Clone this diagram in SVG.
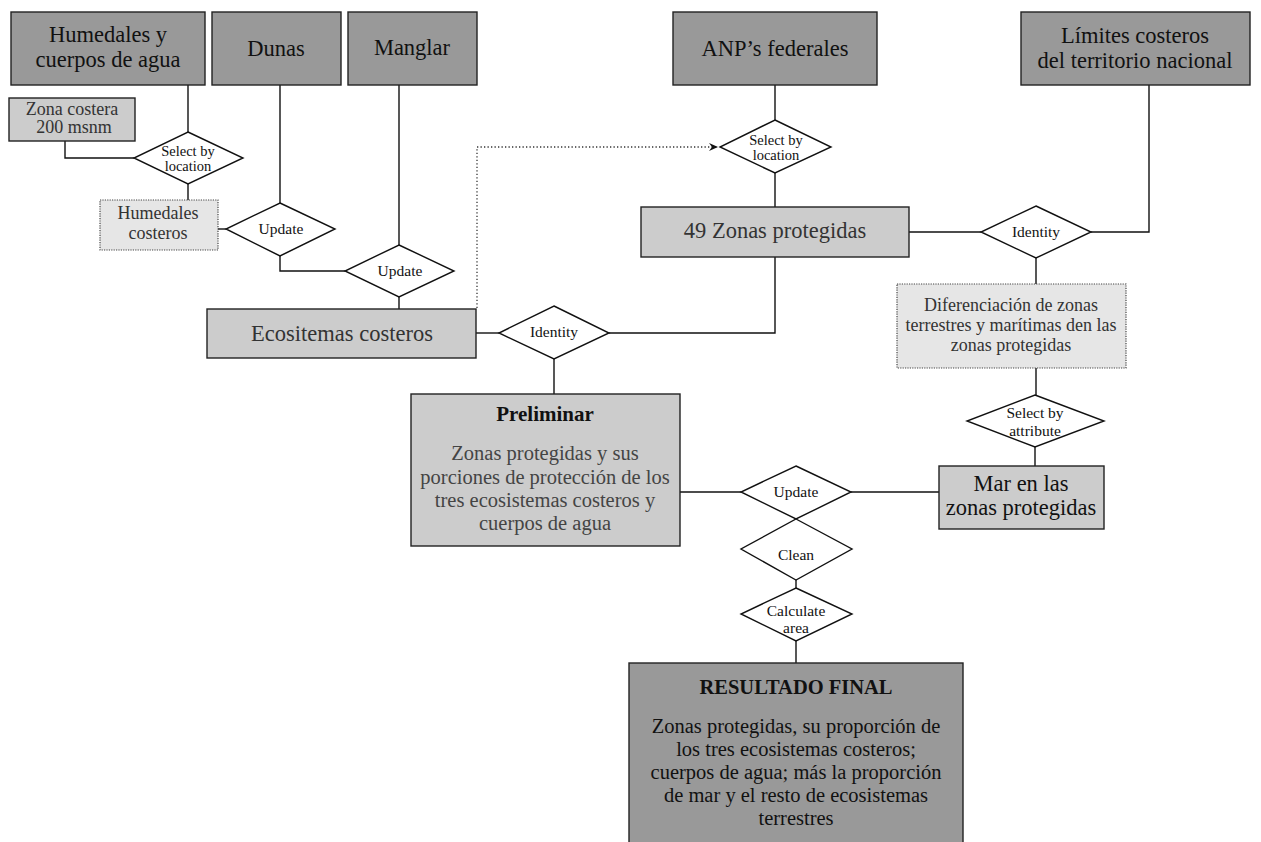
<svg xmlns="http://www.w3.org/2000/svg" width="1261" height="842" viewBox="0 0 1261 842">
<style>
.dark{fill:#999999;stroke:#222;stroke-width:1.4}
.mid{fill:#cccccc;stroke:#222;stroke-width:1.4}
.light{fill:#e6e6e6;stroke:#444;stroke-width:1.2;stroke-dasharray:1.2 1.2}
.dia{fill:#ffffff;stroke:#111;stroke-width:1.4}
.ln{fill:none;stroke:#111;stroke-width:1.4}
.dot{fill:none;stroke:#333;stroke-width:1.3;stroke-dasharray:1.3 2.2}
text{font-family:"Liberation Serif","Times New Roman",serif;text-anchor:middle}
.big{font-size:22.5px;fill:#111}
.bigg{font-size:22.5px;fill:#333}
.med{font-size:18px;fill:#333}
.sm{font-size:15.5px;fill:#111}
.sm2{font-size:14.5px;fill:#111}
.body{font-size:20.5px;fill:#444}
.bodyk{font-size:20.5px;fill:#111}
.hd{font-size:21px;font-weight:bold;fill:#111}
</style>
<defs>
<marker id="arr" markerWidth="10" markerHeight="10" refX="9" refY="5" orient="auto" markerUnits="userSpaceOnUse">
<path d="M0,1 L9,5 L0,9 L3,5 Z" fill="#111"/>
</marker>
</defs>
<g id="connectors">
<path class="ln" d="M188,85 V132"/>
<path class="ln" d="M65,141 V158 H134"/>
<path class="ln" d="M188,184 V200"/>
<path class="ln" d="M218,229 H226"/>
<path class="ln" d="M280,85 V203"/>
<path class="ln" d="M280,256 V271 H345"/>
<path class="ln" d="M399,85 V245"/>
<path class="ln" d="M399,297 V309"/>
<path class="dot" d="M477,308 V147 H718" marker-end="url(#arr)"/>
<path class="ln" d="M476,333 H499"/>
<path class="ln" d="M609,333 H775 V257"/>
<path class="ln" d="M554,359 V394"/>
<path class="ln" d="M775,85 V120"/>
<path class="ln" d="M775,173 V207"/>
<path class="ln" d="M909,232 H981"/>
<path class="ln" d="M1091,232 H1149 V85"/>
<path class="ln" d="M1036,258 V284"/>
<path class="ln" d="M1036,368 V395"/>
<path class="ln" d="M1035,447 V466"/>
<path class="ln" d="M680,492 H741"/>
<path class="ln" d="M851,492 H939"/>
<path class="ln" d="M796,580 V588"/>
<path class="ln" d="M796,641 V663"/>
</g>
<g id="humedales">
<rect class="dark" x="11" y="12" width="194" height="73"/>
<text class="big" x="108" y="42">Humedales y</text>
<text class="big" x="108" y="67">cuerpos de agua</text>
</g>
<g id="dunas">
<rect class="dark" x="212" y="12" width="129" height="73"/>
<text class="big" x="276" y="56">Dunas</text>
</g>
<g id="manglar">
<rect class="dark" x="348" y="12" width="129" height="73"/>
<text class="big" x="412" y="55">Manglar</text>
</g>
<g id="zona-costera">
<rect class="mid" x="9" y="98" width="126" height="43"/>
<text class="med" x="72" y="115">Zona costera</text>
<text class="med" x="74" y="133">200 msnm</text>
</g>
<g id="select-location-1">
<polygon class="dia" points="188,132 243,158 188,184 134,158"/>
<text class="sm2" x="188" y="156">Select by</text>
<text class="sm2" x="188" y="171">location</text>
</g>
<g id="humedales-costeros">
<rect class="light" x="100" y="200" width="118" height="50"/>
<text class="med" x="158" y="219">Humedales</text>
<text class="med" x="158" y="239">costeros</text>
</g>
<g id="update-1">
<polygon class="dia" points="280,203 335,229 280,256 226,229"/>
<text class="sm" x="281" y="234">Update</text>
</g>
<g id="update-2">
<polygon class="dia" points="399,245 454,271 399,297 345,271"/>
<text class="sm" x="400" y="276">Update</text>
</g>
<g id="ecositemas">
<rect class="mid" x="207" y="309" width="269" height="49"/>
<text class="bigg" x="342" y="341">Ecositemas costeros</text>
</g>
<g id="identity-1">
<polygon class="dia" points="554,306 609,333 554,359 499,333"/>
<text class="sm" x="554" y="337">Identity</text>
</g>
<g id="preliminar">
<rect class="mid" x="411" y="394" width="269" height="152"/>
<text class="hd" x="545" y="421">Preliminar</text>
<text class="body" x="545" y="460">Zonas protegidas y sus</text>
<text class="body" x="545" y="484">porciones de protección de los</text>
<text class="body" x="545" y="507">tres ecosistemas costeros y</text>
<text class="body" x="545" y="530">cuerpos de agua</text>
</g>
<g id="anp">
<rect class="dark" x="673" y="12" width="204" height="73"/>
<text class="big" x="775" y="56">ANP’s federales</text>
</g>
<g id="select-location-2">
<polygon class="dia" points="775,120 831,147 775,173 720,147"/>
<text class="sm2" x="776" y="145">Select by</text>
<text class="sm2" x="776" y="160">location</text>
</g>
<g id="zonas-49">
<rect class="mid" x="641" y="207" width="268" height="50"/>
<text class="bigg" x="775" y="238">49 Zonas protegidas</text>
</g>
<g id="limites">
<rect class="dark" x="1021" y="12" width="229" height="73"/>
<text class="big" x="1135" y="43">Límites costeros</text>
<text class="big" x="1135" y="68">del territorio nacional</text>
</g>
<g id="identity-2">
<polygon class="dia" points="1036,206 1091,232 1036,258 981,232"/>
<text class="sm" x="1036" y="237">Identity</text>
</g>
<g id="diferenciacion">
<rect class="light" x="897" y="284" width="229" height="84"/>
<text class="med" x="1011" y="311">Diferenciación de zonas</text>
<text class="med" x="1011" y="331">terrestres y marítimas den las</text>
<text class="med" x="1011" y="351">zonas protegidas</text>
</g>
<g id="select-attribute">
<polygon class="dia" points="1035,395 1104,421 1035,447 967,421"/>
<text class="sm" x="1035" y="418">Select by</text>
<text class="sm" x="1035" y="436">attribute</text>
</g>
<g id="mar">
<rect class="mid" x="939" y="466" width="165" height="63"/>
<text class="big" x="1021" y="491">Mar en las</text>
<text class="big" x="1021" y="515">zonas protegidas</text>
</g>
<g id="update-3">
<polygon class="dia" points="796,466 851,492 796,519 741,492"/>
<text class="sm" x="796" y="497">Update</text>
</g>
<g id="clean">
<polygon class="dia" points="796,519 852,549 796,580 741,549"/>
<text class="sm" x="796" y="560">Clean</text>
</g>
<g id="calculate">
<polygon class="dia" points="796,588 852,614 796,641 741,614"/>
<text class="sm" x="796" y="616">Calculate</text>
<text class="sm" x="796" y="633">area</text>
</g>
<g id="resultado">
<rect class="dark" x="629" y="663" width="334" height="190"/>
<text class="hd" x="796" y="694" style="font-size:20.5px">RESULTADO FINAL</text>
<text class="bodyk" x="796" y="733">Zonas protegidas, su proporción de</text>
<text class="bodyk" x="796" y="756">los tres ecosistemas costeros;</text>
<text class="bodyk" x="796" y="779">cuerpos de agua; más la proporción</text>
<text class="bodyk" x="796" y="802">de mar y el resto de ecosistemas</text>
<text class="bodyk" x="796" y="825">terrestres</text>
</g>
</svg>
